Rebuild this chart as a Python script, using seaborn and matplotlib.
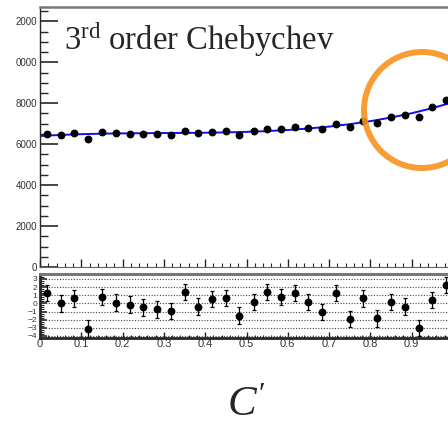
import numpy as np
import pandas as pd
import matplotlib
matplotlib.use("Agg")
import matplotlib.pyplot as plt
from matplotlib.patches import Ellipse
from matplotlib.ticker import MultipleLocator
import seaborn as sns

sns.set_style("ticks")
plt.rcParams["font.family"] = ["Liberation Sans", "DejaVu Sans"]
plt.rcParams["mathtext.fontset"] = "custom"
plt.rcParams["mathtext.rm"] = "Liberation Serif"
plt.rcParams["mathtext.it"] = "Liberation Serif:italic"

# bin centres (30 bins on [0, 1])
x_bins = [0.017, 0.050, 0.083, 0.117, 0.150, 0.183, 0.217, 0.250, 0.283, 0.317,
          0.350, 0.383, 0.417, 0.450, 0.483, 0.517, 0.550, 0.583, 0.617, 0.650,
          0.683, 0.717, 0.750, 0.783, 0.817, 0.850, 0.883, 0.917, 0.950, 0.983]
# events per bin
counts = [6520, 6452, 6525, 6247, 6577, 6531, 6519, 6496, 6479, 6468,
          6662, 6523, 6604, 6628, 6468, 6623, 6748, 6736, 6816, 6776,
          6732, 7003, 6818, 7120, 7023, 7314, 7402, 7332, 7796, 8147]
# pulls (data - fit) / sigma
pulls = [1.25, 0.0, 0.6, -3.1, 0.8, 0.1, -0.15, -0.5, -0.75, -0.95,
         1.4, -0.4, 0.5, 0.65, -1.5, 0.15, 1.35, 0.8, 1.25, 0.15,
         -1.1, 1.3, -1.9, 0.6, -1.85, 0.15, -0.4, -3.0, 0.4, 2.25]
pull_err = [1.0] * 30

# fitted 3rd order Chebychev curve
fit_x = [0.0, 0.05, 0.1, 0.15, 0.2, 0.25, 0.3, 0.35, 0.4, 0.45, 0.5,
         0.55, 0.6, 0.65, 0.7, 0.75, 0.8, 0.85, 0.9, 0.95, 1.0]
fit_y = [6400, 6452, 6488, 6512, 6527, 6536, 6543, 6549, 6559, 6575, 6600,
         6638, 6692, 6764, 6858, 6977, 7123, 7301, 7512, 7761, 8050]

# y tick labels as they appear in the (cropped) original
top_ticks = [0, 2000, 4000, 6000, 8000, 10000, 12000]
top_ticklabels = ["0", "2000", "4000", "6000", "8000", "0000", "2000"]
pull_ticks = [-4, -3, -2, -1, 0, 1, 2, 3]
x_ticks = [0, 0.1, 0.2, 0.3, 0.4, 0.5, 0.6, 0.7, 0.8, 0.9]
x_ticklabels = ["0", "0.1", "0.2", "0.3", "0.4", "0.5", "0.6", "0.7", "0.8", "0.9"]

df = pd.DataFrame({"x": x_bins, "n": counts, "pull": pulls})
fit = pd.DataFrame({"x": fit_x, "y": fit_y})

W, H = 448, 425
fig = plt.figure(figsize=(W / 100, H / 100), dpi=100)

left = 40 / W
width = 413 / W
ax = fig.add_axes([left, 1 - 267 / H, width, 260 / H])
ax2 = fig.add_axes([left, 1 - 338 / H, width, 64 / H])

# ---- top panel
sns.lineplot(data=fit, x="x", y="y", ax=ax, color="#1010ee", lw=1.4, zorder=2)
sns.scatterplot(data=df, x="x", y="n", ax=ax, color="black", s=32,
                linewidth=0, zorder=3)
ax.set_xlim(0, 1)
ax.set_ylim(0, 12700)
ax.set_xlabel("")
ax.set_ylabel("")
ax.set_yticks(top_ticks)
ax.set_yticklabels(top_ticklabels)
ax.yaxis.set_minor_locator(MultipleLocator(500))
ax.xaxis.set_major_locator(MultipleLocator(0.1))
ax.xaxis.set_minor_locator(MultipleLocator(0.02))
ax.tick_params(axis="y", which="major", direction="in", length=13, width=1.2,
               labelsize=7, pad=2, labelcolor="#333333")
ax.tick_params(axis="y", which="minor", direction="in", length=6, width=1)
ax.tick_params(axis="x", which="major", direction="in", length=6, width=1,
               labelbottom=False)
ax.tick_params(axis="x", which="minor", direction="in", length=3, width=0.8)
ax.spines["top"].set_color("#777777")
ax.spines["top"].set_linewidth(1.8)
ax.spines["right"].set_visible(False)
ax.spines["left"].set_linewidth(1.0)
ax.spines["bottom"].set_color("#666666")
ax.spines["bottom"].set_linewidth(0.8)
ax.text(0.057, 0.875, r"3$^{\rm rd}$ order Chebychev", transform=ax.transAxes,
        fontsize=23.5, family="Liberation Serif", va="center", ha="left")

# ---- bottom panel (pulls)
ax2.errorbar(x_bins, pulls, yerr=pull_err, fmt="none", ecolor="black",
             elinewidth=0.9, capsize=1.5, capthick=0.9, zorder=2)
sns.scatterplot(data=df, x="x", y="pull", ax=ax2, color="black", s=32,
                linewidth=0, zorder=3)
ax2.set_xlim(0, 1)
ax2.set_ylim(-4.25, 3.6)
ax2.set_yticks(pull_ticks)
ax2.yaxis.set_minor_locator(MultipleLocator(0.25))
ax2.set_xticks(x_ticks)
ax2.set_xticklabels(x_ticklabels)
ax2.xaxis.set_minor_locator(MultipleLocator(0.02))
for v in pull_ticks:
    ax2.axhline(v, color="#444444", lw=0.8, ls=(0, (1, 1.5)), zorder=1)
ax2.tick_params(axis="y", which="major", direction="in", length=5, width=1.2,
                labelsize=6, pad=2, labelcolor="#333333")
ax2.tick_params(axis="y", which="minor", direction="in", length=3, width=0.8)
ax2.tick_params(axis="x", which="major", direction="in", length=4, width=1,
                labelsize=8, pad=1, labelcolor="#333333")
ax2.tick_params(axis="x", which="minor", direction="in", length=2, width=0.8)
ax2.spines["top"].set_color("#777777")
ax2.spines["top"].set_linewidth(2.2)
ax2.spines["right"].set_visible(False)
ax2.spines["left"].set_linewidth(2.0)
ax2.spines["bottom"].set_linewidth(2.0)
ax2.set_xlabel(r"$C'$", fontsize=31, labelpad=26)
ax2.set_ylabel("")

# hand-drawn style highlight around the last bins
fig.add_artist(Ellipse((422 / W, 1 - 110 / H), 116 / W, 116 / H,
                       transform=fig.transFigure, fill=False,
                       edgecolor="#f7931e", lw=4.3, alpha=0.9, zorder=5))

fig.savefig("out.png", dpi=100)
